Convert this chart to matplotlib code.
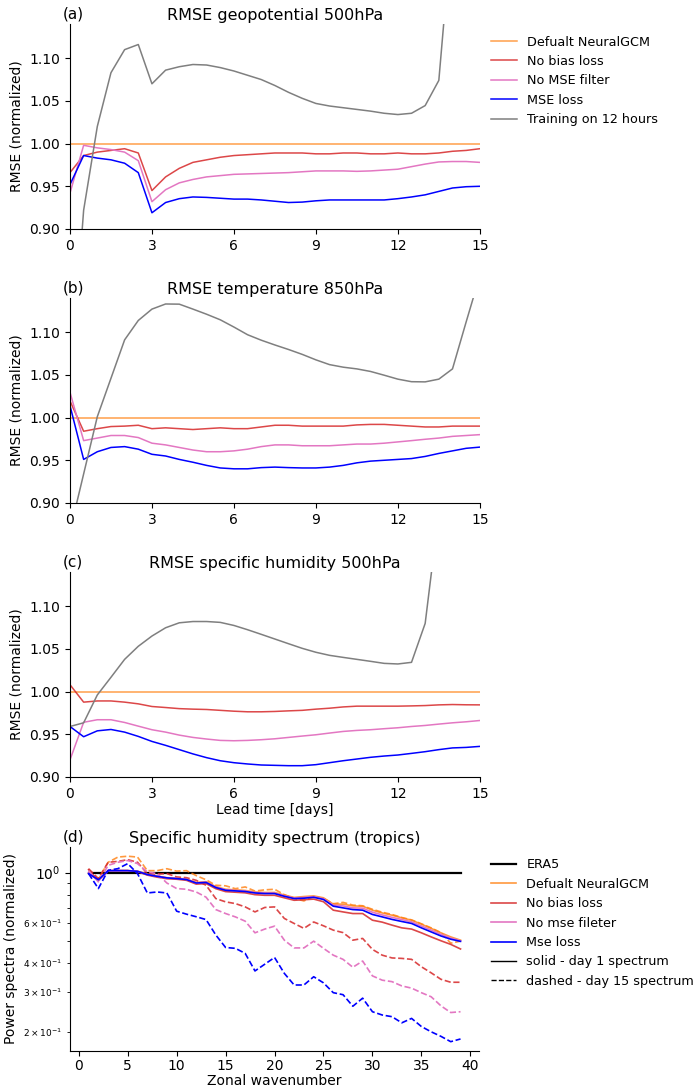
import numpy as np
import matplotlib
matplotlib.use("Agg")
import matplotlib.pyplot as plt
from matplotlib.lines import Line2D

# lead time axis (days) for the RMSE panels
lead_days = np.arange(0, 15.01, 0.5)

# (a) geopotential 500hPa, RMSE normalized by default NeuralGCM
geo_default = [1.0] * 31
geo_nobias = [0.966, 0.986, 0.990, 0.992, 0.994, 0.989, 0.945, 0.961, 0.971, 0.978, 0.981,
              0.984, 0.986, 0.987, 0.988, 0.989, 0.989, 0.989, 0.988, 0.988, 0.989, 0.989,
              0.988, 0.988, 0.989, 0.988, 0.988, 0.989, 0.991, 0.992, 0.994]
geo_nomse = [0.942, 0.998, 0.995, 0.993, 0.990, 0.980, 0.932, 0.946, 0.954, 0.958, 0.961,
             0.9625, 0.964, 0.9645, 0.965, 0.9655, 0.966, 0.967, 0.968, 0.968, 0.968, 0.9675,
             0.968, 0.969, 0.970, 0.973, 0.976, 0.9785, 0.979, 0.979, 0.978]
geo_mse = [0.952, 0.986, 0.983, 0.981, 0.977, 0.966, 0.919, 0.931, 0.9355, 0.9375, 0.937,
           0.936, 0.935, 0.935, 0.934, 0.9325, 0.931, 0.9315, 0.933, 0.934, 0.934, 0.934,
           0.934, 0.934, 0.9355, 0.9375, 0.940, 0.944, 0.948, 0.9495, 0.950]
geo_12h = [0.71, 0.922, 1.020, 1.083, 1.110, 1.116, 1.070, 1.086, 1.090, 1.0926, 1.092,
           1.089, 1.085, 1.080, 1.075, 1.068, 1.060, 1.053, 1.047, 1.044, 1.042, 1.040,
           1.038, 1.0355, 1.034, 1.0355, 1.0445, 1.074, 1.26, 1.50, 1.80]

# (b) temperature 850hPa
t_default = [1.0] * 31
t_nobias = [1.0195, 0.984, 0.987, 0.9895, 0.990, 0.991, 0.987, 0.988, 0.987, 0.986, 0.987,
            0.988, 0.987, 0.987, 0.989, 0.991, 0.991, 0.990, 0.990, 0.990, 0.990, 0.9914,
            0.992, 0.992, 0.991, 0.990, 0.989, 0.989, 0.990, 0.990, 0.990]
t_nomse = [1.0297, 0.973, 0.976, 0.979, 0.979, 0.9766, 0.970, 0.968, 0.965, 0.962, 0.960,
           0.960, 0.961, 0.963, 0.966, 0.968, 0.968, 0.967, 0.967, 0.967, 0.968, 0.969,
           0.969, 0.970, 0.9715, 0.973, 0.9746, 0.976, 0.978, 0.979, 0.980]
t_mse = [1.014, 0.951, 0.960, 0.965, 0.966, 0.963, 0.957, 0.955, 0.951, 0.9477, 0.944,
         0.941, 0.940, 0.940, 0.9414, 0.942, 0.9414, 0.941, 0.941, 0.942, 0.944, 0.947,
         0.949, 0.950, 0.951, 0.952, 0.9545, 0.958, 0.961, 0.964, 0.9654]
t_12h = [0.867, 0.934, 1.001, 1.046, 1.091, 1.1137, 1.127, 1.133, 1.1328, 1.127, 1.121,
         1.1145, 1.106, 1.097, 1.0906, 1.085, 1.0797, 1.074, 1.0676, 1.062, 1.059, 1.057,
         1.054, 1.0496, 1.045, 1.042, 1.0418, 1.045, 1.057, 1.112, 1.166]

# (c) specific humidity 500hPa
q_default = [1.0] * 31
q_nobias = [1.008, 0.9876, 0.989, 0.989, 0.9876, 0.9856, 0.9825, 0.9813, 0.980, 0.9794, 0.979,
            0.978, 0.977, 0.9763, 0.9763, 0.9767, 0.9774, 0.978, 0.9794, 0.9805, 0.982, 0.9829,
            0.9829, 0.9829, 0.9829, 0.9832, 0.9836, 0.9844, 0.9848, 0.9845, 0.9844]
q_nomse = [0.920, 0.964, 0.967, 0.967, 0.9638, 0.9595, 0.9553, 0.9525, 0.949, 0.9463, 0.9444,
           0.9428, 0.9424, 0.9428, 0.9436, 0.9447, 0.9463, 0.9479, 0.9494, 0.9514, 0.9533,
           0.9545, 0.9553, 0.9565, 0.9576, 0.9591, 0.9603, 0.9619, 0.9634, 0.9646, 0.9661]
q_mse = [0.9591, 0.9471, 0.954, 0.9556, 0.9525, 0.9475, 0.9416, 0.937, 0.932, 0.927, 0.9226,
         0.919, 0.9167, 0.9152, 0.914, 0.9136, 0.9132, 0.9132, 0.9144, 0.9167, 0.919, 0.921,
         0.923, 0.9245, 0.9257, 0.9276, 0.9296, 0.932, 0.934, 0.9346, 0.9358]
q_12h = [0.9591, 0.9634, 0.996, 1.0167, 1.0377, 1.053, 1.065, 1.0747, 1.0805, 1.082, 1.082,
         1.081, 1.0774, 1.0724, 1.067, 1.0615, 1.056, 1.0506, 1.046, 1.0424, 1.040, 1.0377,
         1.0354, 1.033, 1.0323, 1.0342, 1.0798, 1.21, 1.40, 1.60, 1.80]

# (d) specific humidity spectrum, tropics (normalized by ERA5)
wavenumber = np.arange(1, 40)
era5 = [1.0] * 39
day1_default = [0.99, 0.93, 1.02, 1.02, 1.02, 1.015, 0.985, 0.965, 0.95, 0.945, 0.937, 0.905,
                0.912, 0.868, 0.845, 0.84, 0.835, 0.822, 0.818, 0.818, 0.797, 0.778, 0.785,
                0.79, 0.775, 0.727, 0.727, 0.714, 0.712, 0.684, 0.665, 0.650, 0.633, 0.618,
                0.594, 0.569, 0.544, 0.522, 0.505]
day1_nobias = [1.03, 0.92, 1.02, 1.02, 1.02, 1.01, 0.975, 0.955, 0.94, 0.935, 0.925, 0.89,
               0.895, 0.85, 0.825, 0.82, 0.815, 0.80, 0.795, 0.795, 0.775, 0.756, 0.76,
               0.765, 0.745, 0.684, 0.672, 0.661, 0.661, 0.618, 0.606, 0.588, 0.572, 0.565,
               0.544, 0.522, 0.502, 0.484, 0.462]
day1_nomse = [1.0, 0.92, 1.02, 1.02, 1.02, 1.013, 0.982, 0.963, 0.948, 0.943, 0.934, 0.902,
              0.908, 0.864, 0.84, 0.835, 0.83, 0.818, 0.813, 0.813, 0.792, 0.773, 0.778,
              0.784, 0.768, 0.72, 0.714, 0.70, 0.698, 0.67, 0.652, 0.636, 0.622, 0.608,
              0.583, 0.559, 0.536, 0.516, 0.502]
day1_mse = [0.99, 0.93, 1.02, 1.02, 1.02, 1.013, 0.98, 0.963, 0.948, 0.941, 0.932, 0.90,
            0.905, 0.86, 0.836, 0.831, 0.826, 0.814, 0.809, 0.809, 0.787, 0.769, 0.772,
            0.779, 0.762, 0.712, 0.700, 0.688, 0.684, 0.655, 0.639, 0.623, 0.610, 0.598,
            0.572, 0.549, 0.527, 0.510, 0.499]
day15_default = [0.99, 0.935, 1.11, 1.17, 1.18, 1.17, 1.02, 1.02, 1.04, 1.015, 1.02, 0.97,
                 0.93, 0.88, 0.875, 0.85, 0.865, 0.83, 0.84, 0.845, 0.80, 0.77, 0.751, 0.785,
                 0.77, 0.73, 0.74, 0.72, 0.715, 0.69, 0.67, 0.655, 0.635, 0.62, 0.596, 0.572,
                 0.545, 0.49, 0.50]
day15_nobias = [1.04, 0.941, 1.11, 1.12, 1.14, 1.11, 0.99, 0.985, 0.99, 0.957, 0.95, 0.925,
                0.88, 0.769, 0.744, 0.731, 0.707, 0.672, 0.703, 0.707, 0.629, 0.598, 0.569,
                0.607, 0.584, 0.559, 0.545, 0.505, 0.514, 0.46, 0.434, 0.422, 0.42, 0.416,
                0.386, 0.363, 0.34, 0.33, 0.33]
day15_nomse = [1.02, 0.91, 1.076, 1.11, 1.13, 1.095, 1.006, 0.99, 0.90, 0.851, 0.845, 0.822,
               0.78, 0.688, 0.661, 0.639, 0.612, 0.544, 0.565, 0.582, 0.505, 0.467, 0.467,
               0.50, 0.465, 0.434, 0.416, 0.384, 0.409, 0.352, 0.337, 0.332, 0.318, 0.311,
               0.297, 0.285, 0.260, 0.243, 0.245]
day15_mse = [0.99, 0.851, 1.023, 1.041, 1.095, 0.99, 0.814, 0.822, 0.814, 0.677, 0.657, 0.64,
             0.622, 0.532, 0.469, 0.465, 0.442, 0.370, 0.396, 0.424, 0.361, 0.321, 0.321,
             0.349, 0.328, 0.297, 0.291, 0.259, 0.281, 0.245, 0.237, 0.233, 0.219, 0.229,
             0.211, 0.200, 0.191, 0.181, 0.186]

c_default = "tab:orange"
c_nobias = "tab:red"
c_nomse = "tab:pink"
c_mse = "blue"
c_12h = "tab:gray"

fig = plt.figure(figsize=(6.97, 10.92), dpi=100)

rmse_panels = [
    ("(a)", "RMSE geopotential 500hPa", geo_default, geo_nobias, geo_nomse, geo_mse, geo_12h, 0.7903),
    ("(b)", "RMSE temperature 850hPa", t_default, t_nobias, t_nomse, t_mse, t_12h, 0.5394),
    ("(c)", "RMSE specific humidity 500hPa", q_default, q_nobias, q_nomse, q_mse, q_12h, 0.2885),
]

for i, (tag, title, d, nb, nm, ms, h12, bottom) in enumerate(rmse_panels):
    ax = fig.add_axes([0.1004, bottom, 0.588, 0.1877])
    ax.plot(lead_days, d, color=c_default, lw=1.1, alpha=0.75, label="Defualt NeuralGCM")
    ax.plot(lead_days, nb, color=c_nobias, lw=1.1, alpha=0.85, label="No bias loss")
    ax.plot(lead_days, nm, color=c_nomse, lw=1.1, label="No MSE filter")
    ax.plot(lead_days, ms, color=c_mse, lw=1.1, label="MSE loss")
    ax.plot(lead_days, h12, color=c_12h, lw=1.1, label="Training on 12 hours")
    ax.set_xlim(0, 15)
    ax.set_ylim(0.9, 1.14)
    ax.set_xticks(np.arange(0, 16, 3))
    ax.set_yticks([0.90, 0.95, 1.00, 1.05, 1.10])
    ax.set_yticklabels(["0.90", "0.95", "1.00", "1.05", "1.10"])
    ax.set_ylabel("RMSE (normalized)")
    ax.set_title(title, fontsize=11.5, pad=3)
    ax.text(-0.018, 1.01, tag, transform=ax.transAxes, fontsize=11, ha="left", va="bottom")
    ax.spines["top"].set_visible(False)
    ax.spines["right"].set_visible(False)
    if i == 0:
        ax.legend(loc="upper left", bbox_to_anchor=(1.0, 1.0), frameon=False, fontsize=9.2)
    if i == 2:
        ax.set_xlabel("Lead time [days]", labelpad=2)

# (d) spectrum panel
ax = fig.add_axes([0.1004, 0.0376, 0.587, 0.1868])
ax.plot(wavenumber, era5, color="black", lw=1.6)
for day1, day15, col, a in [(day1_default, day15_default, c_default, 0.8),
                            (day1_nobias, day15_nobias, c_nobias, 0.85),
                            (day1_nomse, day15_nomse, c_nomse, 1.0),
                            (day1_mse, day15_mse, c_mse, 1.0)]:
    ax.plot(wavenumber, day1, color=col, lw=1.2, alpha=a)
    ax.plot(wavenumber, day15, color=col, lw=1.2, alpha=a, ls="--")
ax.set_yscale("log")
ax.tick_params(axis="y", which="minor", labelsize=6.5)
ax.tick_params(axis="x", pad=2)
ax.set_xticks(np.arange(0, 41, 5))
ax.set_xlabel("Zonal wavenumber", labelpad=1)
ax.set_ylabel("Power spectra (normalized)")
ax.set_title("Specific humidity spectrum (tropics)", fontsize=11.5, pad=3)
ax.text(-0.018, 1.01, "(d)", transform=ax.transAxes, fontsize=11, ha="left", va="bottom")
ax.spines["top"].set_visible(False)
ax.spines["right"].set_visible(False)

handles = [
    Line2D([], [], color="black", lw=1.6, label="ERA5"),
    Line2D([], [], color=c_default, lw=1.2, alpha=0.8, label="Defualt NeuralGCM"),
    Line2D([], [], color=c_nobias, lw=1.2, alpha=0.85, label="No bias loss"),
    Line2D([], [], color=c_nomse, lw=1.2, label="No mse fileter"),
    Line2D([], [], color=c_mse, lw=1.2, label="Mse loss"),
    Line2D([], [], color="black", lw=1.0, label="solid - day 1 spectrum"),
    Line2D([], [], color="black", lw=1.0, ls="--", label="dashed - day 15 spectrum"),
]
ax.legend(handles=handles, loc="upper left", bbox_to_anchor=(1.0, 1.0), frameon=False, fontsize=9.2)

fig.savefig("out.png", dpi=100)
